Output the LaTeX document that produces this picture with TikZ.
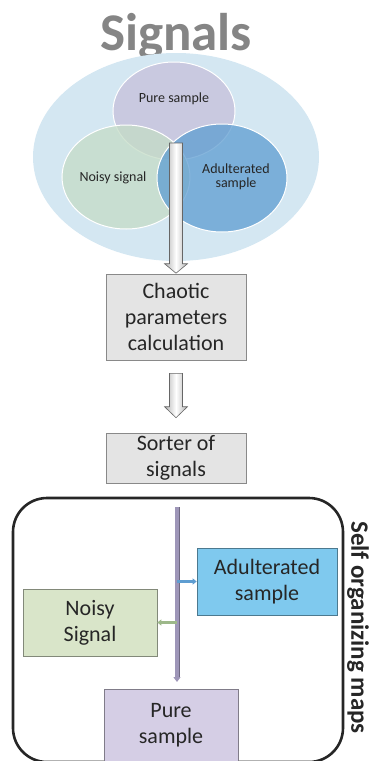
\documentclass[tikz,border=0pt]{standalone}
\usepackage{fontspec}
\setmainfont{Carlito}
\usetikzlibrary{calc,arrows.meta,shapes.geometric}
\definecolor{bigell}{HTML}{D4E7F2}
\definecolor{pureC}{HTML}{C6C0DA}
\definecolor{noisyC}{HTML}{C4DCC6}
\definecolor{adulC}{HTML}{5E9DD1}
\definecolor{boxgray}{HTML}{E4E4E4}
\definecolor{boxblue}{HTML}{7FC9EE}
\definecolor{boxgreen}{HTML}{D9E5C9}
\definecolor{boxpurple}{HTML}{D5CEE5}
\definecolor{barC}{HTML}{9E96B8}
\definecolor{titleC}{HTML}{858585}
\definecolor{greenArrow}{HTML}{9DB88A}
\tikzset{
  vennc/.style={ellipse, draw=white, line width=1pt, fill opacity=0.75, inner sep=0pt},
  vlabel/.style={font=\fontsize{14}{15}\selectfont, text=black!85, align=center},
  flowbox/.style={draw=#1!60!black, line width=0.6pt, fill=#1, align=center, inner sep=0pt,
    font=\fontsize{22}{26}\selectfont, text=black!85},
  blockarrow/.style={draw=gray!80!black, line width=0.6pt, left color=gray!60, right color=gray!60, middle color=white},
}
\begin{document}
\begin{tikzpicture}[x=1pt,y=1pt]
\useasboundingbox (0,0) rectangle (370,-761);
% title
\node[anchor=base, font=\bfseries\fontsize{53}{55}\selectfont, text=titleC] (title) at (176,-50) {Signals};
% venn
\node[ellipse, fill=bigell, minimum width=286, minimum height=208, inner sep=0pt] (bigell) at (176,-157) {};
\node[vennc, fill=pureC, minimum width=122, minimum height=98] (pure) at (174,-111) {};
\node[vennc, fill=noisyC, minimum width=128, minimum height=104] (noisy) at (126,-177) {};
\node[vennc, fill=adulC, minimum width=130, minimum height=108] (adul) at (222,-178) {};
\node[vlabel] (tpure) at (174,-99) {Pure sample};
\node[vlabel] (tnoisy) at (113,-178) {Noisy signal};
\node[vlabel, font=\fontsize{14}{14}\selectfont] (tadul) at (236,-177) {Adulterated\\sample};
\coordinate (vcenter) at (176,-143);
% boxes
\node[flowbox=boxgray, minimum width=140, minimum height=86] (chaotic) at (176,-317) {Chaotic\\parameters\\calculation};
\node[flowbox=boxgray, minimum width=140, minimum height=50] (sorter) at (176,-458) {Sorter of\\signals};
% block arrows
\path[blockarrow] let \p1=(vcenter), \p2=(chaotic.north) in
  (\x1-6.5pt,\y1) -- (\x1+6.5pt,\y1) -- (\x1+6.5pt,\y2+10pt) -- (\x1+11.5pt,\y2+10pt) -- (\x1,\y2+0.5pt)
  -- (\x1-11.5pt,\y2+10pt) -- (\x1-6.5pt,\y2+10pt) -- cycle;
\path[blockarrow] let \p1=(chaotic.south), \p2=(sorter.north) in
  (\x1-6.5pt,\y1-13pt) -- (\x1+6.5pt,\y1-13pt) -- (\x1+6.5pt,\y2+26pt) -- (\x1+11.5pt,\y2+26pt) -- (\x1,\y2+15pt)
  -- (\x1-11.5pt,\y2+26pt) -- (\x1-6.5pt,\y2+26pt) -- cycle;
% SOM container
\node[draw=black!85, line width=2.6pt, rounded corners=34pt, minimum width=330, minimum height=264, inner sep=0pt] (som) at (178,-630) {};
\node[rotate=-90, font=\bfseries\fontsize{25}{28}\selectfont, text=black!85] (somlabel) at (358,-627.5) {Self organizing maps};
% output boxes
\node[flowbox=boxblue, minimum width=140, minimum height=67] (badul) at (267,-581.5) {Adulterated\\sample};
\node[flowbox=boxgreen, minimum width=134, minimum height=67] (bnoisy) at (90,-622.5) {Noisy\\Signal};
\node[flowbox=boxpurple, minimum width=134, minimum height=72] (bpure) at (171,-725) {Pure\\sample};
% bar
\coordinate (bartop) at (177,-507);
\coordinate (barbot) at (177,-682);
\draw[line width=5pt, draw=barC!70!black] (bartop) -- ($(barbot)+(0,4)$);
\draw[line width=3.4pt, draw=barC, -{Triangle[width=7pt,length=5pt]}] (bartop) -- (barbot);
\draw[line width=2.4pt, draw=adulC, -{Triangle[width=6pt,length=4pt]}] (badul.west -| bartop) -- (badul.west);
\draw[line width=2.4pt, draw=greenArrow, -{Triangle[width=6pt,length=4pt]}] (bnoisy.east -| bartop) -- (bnoisy.east);
\end{tikzpicture}
\end{document}
